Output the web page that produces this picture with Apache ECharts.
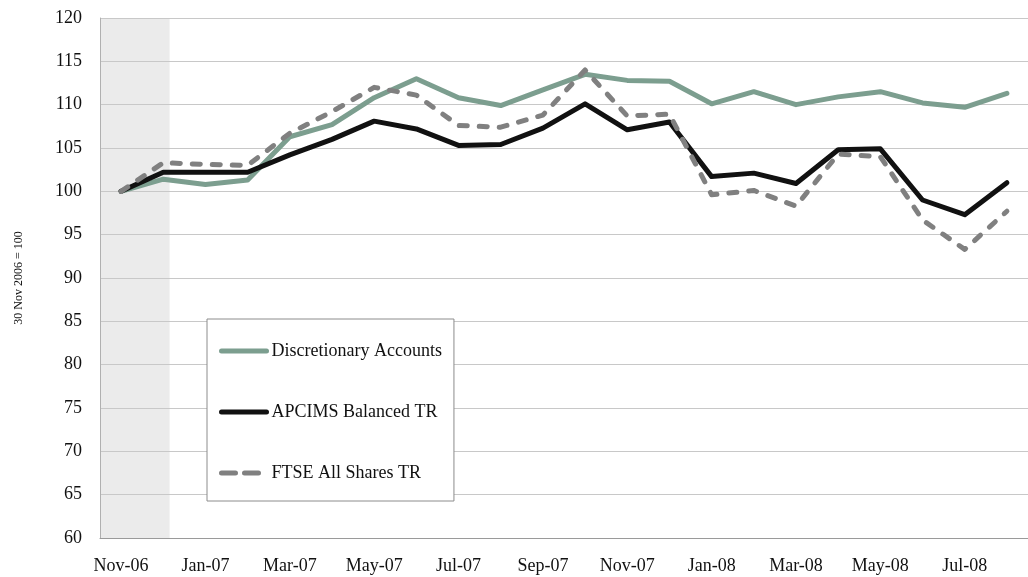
<!DOCTYPE html>
<html>
<head>
<meta charset="utf-8">
<script src="https://cdn.jsdelivr.net/npm/echarts@6/dist/echarts.min.js"></script>
<style>
  html, body { margin: 0; padding: 0; background: #fff; }
  #chart { width: 1028px; height: 577px; }
</style>
</head>
<body>
<div id="chart"></div>
<script>
// months, Nov-06 .. Aug-08
var months = ['Nov-06', 'Dec-06', 'Jan-07', 'Feb-07', 'Mar-07', 'Apr-07', 'May-07', 'Jun-07',
  'Jul-07', 'Aug-07', 'Sep-07', 'Oct-07', 'Nov-07', 'Dec-07', 'Jan-08', 'Feb-08',
  'Mar-08', 'Apr-08', 'May-08', 'Jun-08', 'Jul-08', 'Aug-08'];

var discretionary = [100, 101.4, 100.8, 101.3, 106.3, 107.7, 110.8, 113.0, 110.8, 109.9, 111.7,
  113.5, 112.8, 112.7, 110.1, 111.5, 110.0, 110.9, 111.5, 110.2, 109.7, 111.3];
var apcims = [100, 102.2, 102.2, 102.2, 104.2, 106.0, 108.1, 107.2, 105.3, 105.4, 107.3,
  110.1, 107.1, 108.0, 101.7, 102.1, 100.9, 104.8, 104.9, 99.0, 97.3, 101.0];
var ftse = [100, 103.3, 103.1, 103.0, 106.7, 109.2, 112.0, 111.1, 107.6, 107.4, 108.8,
  114.0, 108.7, 108.9, 99.6, 100.1, 98.3, 104.3, 104.0, 96.7, 93.3, 97.7];

// shaded period at the start (in category index units)
var shadeFrom = -0.5;
var shadeTo = 1.15;

var font = '"Liberation Serif", "DejaVu Serif", serif';

var chart = echarts.init(document.getElementById('chart'));

var option = {
  animation: false,
  textStyle: { fontFamily: font },
  grid: { left: 100, top: 18, width: 938, height: 520, containLabel: false },
  legend: {
    orient: 'vertical',
    left: 207,
    top: 319,
    padding: [23, 12, 19, 12],
    itemGap: 43,
    itemWidth: 45,
    itemHeight: 16,
    backgroundColor: '#fff',
    borderColor: '#8c8c8c',
    borderWidth: 1,
    z: 10,
    itemStyle: { opacity: 0 },
    lineStyle: { width: 5, cap: 'round' },
    textStyle: { fontFamily: font, fontSize: 18, color: '#111' },
    data: [
      { name: 'Discretionary Accounts' },
      { name: 'APCIMS Balanced TR' },
      { name: 'FTSE All Shares TR', lineStyle: { width: 5, type: [14, 9], cap: 'round' } }
    ]
  },
  xAxis: [
    {
      type: 'category',
      data: months,
      boundaryGap: true,
      z: 2,
      axisLine: { lineStyle: { color: '#9a9a9a', width: 1 } },
      axisTick: { show: false },
      axisLabel: { interval: 1, fontSize: 18, color: '#111', margin: 19, fontFamily: font }
    },
    {
      type: 'value',
      min: -0.5,
      max: 21.5,
      show: false
    }
  ],
  yAxis: {
    type: 'value',
    min: 60,
    max: 120,
    interval: 5,
    z: 2,
    name: '30 Nov 2006 = 100',
    nameLocation: 'middle',
    nameGap: 75,
    nameTextStyle: { fontSize: 12, color: '#111', fontFamily: font },
    axisLine: { show: true, onZero: false, lineStyle: { color: '#b0b0b0', width: 1 } },
    axisTick: { show: false },
    axisLabel: { fontSize: 18, color: '#111', margin: 18, fontFamily: font },
    splitLine: { lineStyle: { color: '#c8c8c8', width: 1 } }
  },
  series: [
    {
      type: 'line',
      xAxisIndex: 1,
      data: [],
      silent: true,
      z: 0,
      markArea: {
        silent: true,
        z: 0,
        itemStyle: { color: '#ebebeb' },
        data: [[{ xAxis: shadeFrom }, { xAxis: shadeTo }]]
      }
    },
    {
      name: 'Discretionary Accounts',
      type: 'line',
      data: discretionary,
      symbol: 'none',
      color: '#7c9e8f',
      lineStyle: { width: 5, color: '#7c9e8f', cap: 'round', join: 'round' },
      z: 3
    },
    {
      name: 'APCIMS Balanced TR',
      type: 'line',
      data: apcims,
      symbol: 'none',
      color: '#111111',
      lineStyle: { width: 5, color: '#111111', cap: 'round', join: 'round' },
      z: 4
    },
    {
      name: 'FTSE All Shares TR',
      type: 'line',
      data: ftse,
      symbol: 'none',
      color: '#808080',
      lineStyle: { width: 5, color: '#808080', type: [8, 12], cap: 'round', join: 'round' },
      z: 5
    }
  ]
};

chart.setOption(option);
</script>
</body>
</html>
